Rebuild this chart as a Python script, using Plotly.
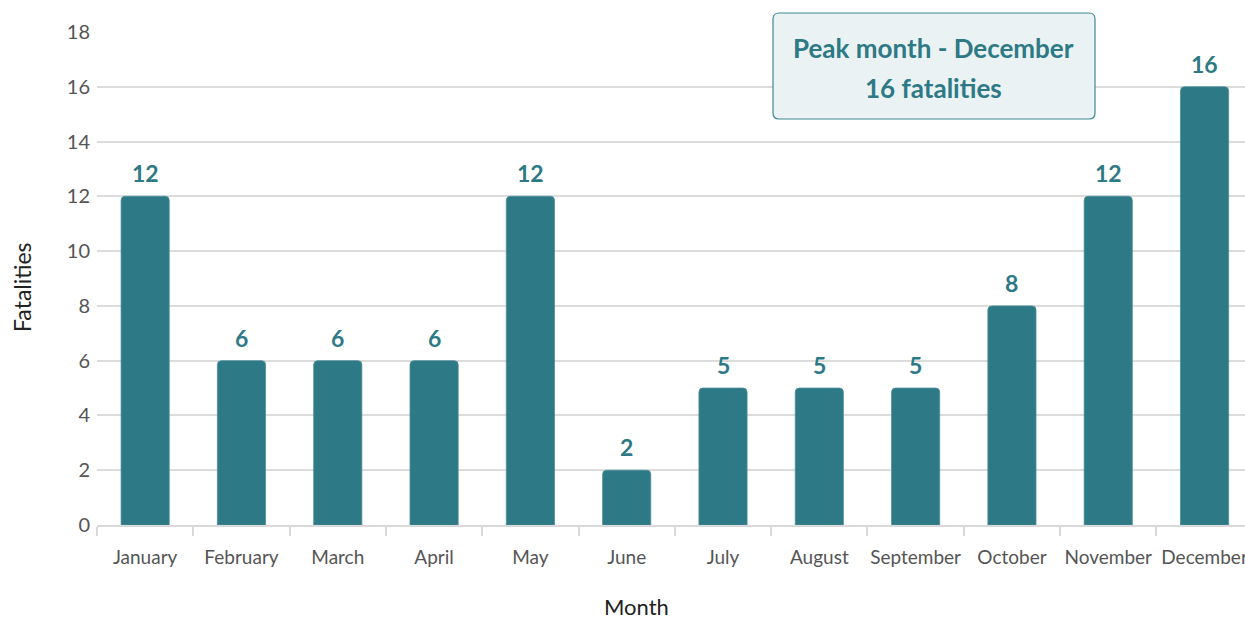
import plotly.graph_objects as go

months = ["January", "February", "March", "April", "May", "June", "July",
          "August", "September", "October", "November", "December"]
fatalities = [12, 6, 6, 6, 12, 2, 5, 5, 5, 8, 12, 16]
y_ticks = [0, 2, 4, 6, 8, 10, 12, 14, 16, 18]
peak_title = "Peak month - December"
peak_sub = "16 fatalities"
x_title = "Month"
y_title = "Fatalities"

FONT = "Lato"
TEAL = "#2d7985"

fig = go.Figure()
fig.add_trace(go.Bar(
    x=months, y=fatalities, width=0.5,
    marker=dict(color=TEAL, cornerradius=4, line=dict(color="#4d8f99", width=0.8)),
    hoverinfo="x+y",
))

for m, v in zip(months, fatalities):
    fig.add_annotation(x=m, y=v, text=f"<b>{v}</b>", showarrow=False,
                       yanchor="bottom", yshift=7,
                       font=dict(family=FONT, size=23, color=TEAL))

# rounded callout box in paper coordinates
x0, x1 = (773 - 97) / 1148, (1095 - 97) / 1148
y0, y1 = (525 - 119) / 493, (525 - 13) / 493
rx, ry = 6 / 1148, 6 / 493
path = (f"M {x0+rx},{y0} L {x1-rx},{y0} Q {x1},{y0} {x1},{y0+ry} "
        f"L {x1},{y1-ry} Q {x1},{y1} {x1-rx},{y1} L {x0+rx},{y1} "
        f"Q {x0},{y1} {x0},{y1-ry} L {x0},{y0+ry} Q {x0},{y0} {x0+rx},{y0} Z")
fig.add_shape(type="path", path=path, xref="paper", yref="paper",
              fillcolor="#eaf2f4", line=dict(color="#3f8793", width=1.2))
xc = (x0 + x1) / 2
fig.add_annotation(x=xc, y=(525 - 48) / 493, xref="paper", yref="paper",
                   xanchor="center", yanchor="middle",
                   text=f"<b>{peak_title}</b>", showarrow=False,
                   font=dict(family=FONT, size=26, color=TEAL))
fig.add_annotation(x=xc, y=(525 - 88) / 493, xref="paper", yref="paper",
                   xanchor="center", yanchor="middle",
                   text=f"<b>{peak_sub}</b>", showarrow=False,
                   font=dict(family=FONT, size=26, color=TEAL))

# axis titles
fig.add_annotation(x=(636 - 97) / 1148, y=(525 - 606) / 493, xref="paper", yref="paper",
                   xanchor="center", yanchor="middle", text=x_title, showarrow=False,
                   font=dict(family=FONT, size=22, color="#222222"))
fig.add_annotation(x=(22 - 97) / 1148, y=(525 - 287) / 493, xref="paper", yref="paper",
                   xanchor="center", yanchor="middle", text=y_title, showarrow=False,
                   textangle=-90, font=dict(family=FONT, size=23, color="#222222"))

fig.update_layout(
    width=1245, height=619,
    margin=dict(l=97, r=0, t=32, b=94, autoexpand=False),
    plot_bgcolor="white", paper_bgcolor="white",
    showlegend=False,
    font=dict(family=FONT),
    xaxis=dict(
        range=[-0.5, 11.42], tickson="boundaries", ticks="outside", ticklen=9,
        tickcolor="#d9d9d9", tickwidth=1.5, showline=True, linecolor="#d9d9d9",
        linewidth=1.5, showgrid=False, ticklabelstandoff=14, tickangle=0,
        automargin=False,
        tickfont=dict(family=FONT, size=19, color="#555555"),
    ),
    yaxis=dict(
        range=[0, 18], tickvals=y_ticks, showgrid=True, gridcolor="#dcdcdc", gridwidth=1.5,
        zeroline=False, ticks="", ticklabelstandoff=6, automargin=False,
        tickfont=dict(family=FONT, size=20, color="#555555"),
    ),
)

fig.write_html("out.html", config={"displayModeBar": False},
               post_script="document.body.style.margin='0';")
